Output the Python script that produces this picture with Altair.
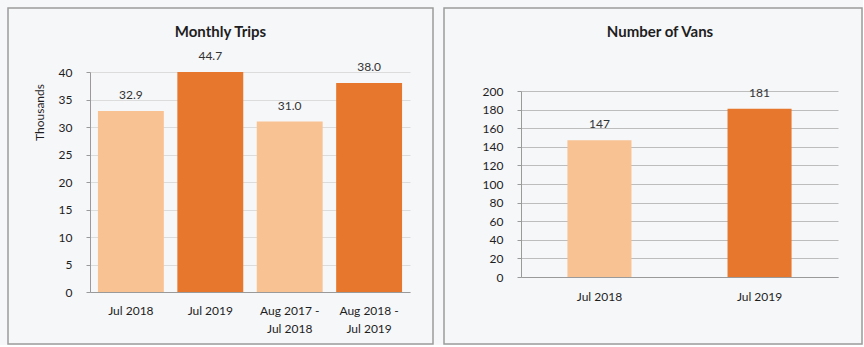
import altair as alt
import pandas as pd

# ---- data ----
trip_periods = ["Jul 2018", "Jul 2019", "Aug 2017 - Jul 2018", "Aug 2018 - Jul 2019"]
trip_values = [32.9, 44.7, 31.0, 38.0]
trip_shade = ["light", "dark", "light", "dark"]
trip_ticks = [0, 5, 10, 15, 20, 25, 30, 35, 40]

van_periods = ["Jul 2018", "Jul 2019"]
van_values = [147, 181]
van_shade = ["light", "dark"]
van_ticks = [0, 20, 40, 60, 80, 100, 120, 140, 160, 180, 200]

FONT = "Lato"
TXT = "#1e1e1e"
AX = "#9a9a9a"
color_scale = alt.Scale(domain=["light", "dark"], range=["#f9c293", "#e8772e"])


def two_line(label):
    return label.replace(" - ", " -|")


def x_axis():
    return alt.Axis(title=None, labels=False, ticks=False, domainColor=AX)


def frame_layer(x1, x2, y1, y2):
    return alt.Chart(alt.Data(values=[{"k": 1}])).mark_rect(
        filled=False, stroke="#9c9c9c", strokeWidth=1.5
    ).encode(x=alt.value(x1), x2=alt.value(x2), y=alt.value(y1), y2=alt.value(y2))


def y_axis(values, grid_color, **kw):
    return alt.Axis(values=values, tickCount=len(values), labelOverlap=False,
                    labelFont=FONT, labelFontSize=12, labelColor=TXT, labelPadding=14,
                    tickSize=4, tickColor=AX, domainColor=AX, gridColor=grid_color, **kw)


def title(text, dx):
    return alt.TitleParams(text, font=FONT, fontSize=15, fontWeight="bold", color=TXT,
                           baseline="middle", offset=-25, dy=15, dx=dx, frame="bounds",
                           anchor="middle")


# ---- left: Monthly Trips ----
TW, TH = 320, 220
trips = pd.DataFrame({"period": trip_periods, "value": trip_values, "shade": trip_shade,
                      "xlabel": [two_line(p) for p in trip_periods]})
tx = alt.X("period:N", sort=trip_periods,
           scale=alt.Scale(paddingInner=0.17, paddingOuter=0.1), axis=x_axis())
ty_scale = alt.Scale(domain=[0, 40], nice=False)

trip_bars = alt.Chart(trips).mark_bar(clip=True).encode(
    x=tx,
    y=alt.Y("value:Q", scale=ty_scale,
            axis=y_axis(trip_ticks, "#dcdcdc", title="Thousands", titleX=-44, titleY=40,
                        titleAngle=270, titleBaseline="bottom", titleAlign="center",
                        titleFont=FONT, titleFontSize=12, titleFontWeight="normal",
                        titleColor=TXT)),
    color=alt.Color("shade:N", scale=color_scale, legend=None),
)
trip_labels = alt.Chart(trips).transform_calculate(
    ypos="min(datum.value, 40)"
).mark_text(baseline="bottom", dy=-9, font=FONT, fontSize=12, color="#333333").encode(
    x=alt.X("period:N", sort=trip_periods),
    y=alt.Y("ypos:Q", scale=ty_scale),
    text=alt.Text("value:Q", format=".1f"),
)
trip_xlabels = alt.Chart(trips).mark_text(
    baseline="top", lineBreak="|", lineHeight=18, font=FONT, fontSize=12, color=TXT
).encode(x=alt.X("period:N", sort=trip_periods), y=alt.value(TH + 14), text="xlabel:N")

left = alt.layer(frame_layer(-82, 343, -64, 272), trip_bars, trip_labels,
                 trip_xlabels).properties(width=TW, height=TH, title=title("Monthly Trips", 0))

# ---- right: Number of Vans ----
VW, VH = 317, 205
vans = pd.DataFrame({"period": van_periods, "value": van_values, "shade": van_shade,
                     "xlabel": [two_line(p) for p in van_periods]})
vx = alt.X("period:N", sort=van_periods,
           scale=alt.Scale(paddingInner=0.6, paddingOuter=0.29), axis=x_axis())
vy_scale = alt.Scale(domain=[0, 200], nice=False, range=[VH, 19])

van_bars = alt.Chart(vans).mark_bar().encode(
    x=vx,
    y=alt.Y("value:Q", scale=vy_scale, axis=y_axis(van_ticks, "#bdbdbd", title=None)),
    color=alt.Color("shade:N", scale=color_scale, legend=None),
)
van_labels = alt.Chart(vans).mark_text(baseline="bottom", dy=-9, font=FONT, fontSize=12,
                                        color="#333333").encode(
    x=alt.X("period:N", sort=van_periods),
    y=alt.Y("value:Q", scale=vy_scale),
    text=alt.Text("value:Q", format="d"),
)
van_xlabels = alt.Chart(vans).mark_text(
    baseline="top", lineBreak="|", lineHeight=18, font=FONT, fontSize=12, color=TXT
).encode(x=alt.X("period:N", sort=van_periods), y=alt.value(VH + 15), text="xlabel:N")

right = alt.layer(frame_layer(-77, 341, -64, 272), van_bars, van_labels,
                  van_xlabels).properties(width=VW, height=VH, title=title("Number of Vans", 7))

chart = alt.hconcat(left, right, spacing=9).properties(
    background="#f6f7f9",
    padding={"left": 7, "top": 7, "right": 0, "bottom": 0},
).configure_view(strokeWidth=0)

chart.save("out.html", embed_options={"renderer": "svg", "actions": False})
